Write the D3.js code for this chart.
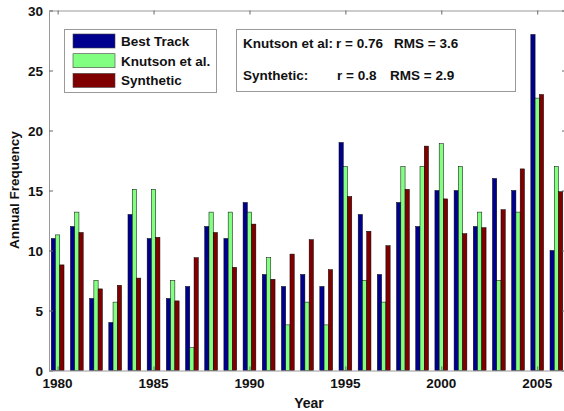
<!DOCTYPE html>
<html>
<head>
<meta charset="utf-8">
<script src="https://cdn.jsdelivr.net/npm/d3@7"></script>
<style>
  body { margin: 0; background: #fff; }
  text { font-family: "Liberation Sans", Arial, sans-serif; font-weight: bold; fill: #111; }
</style>
</head>
<body>
<script>
const years = d3.range(1980, 2007);
const seriesNames = ["Best Track", "Knutson et al.", "Synthetic"];
const bestTrack = [11, 12, 6, 4, 13, 11, 6, 7, 12, 11, 14, 8, 7, 8, 7, 19, 13, 8, 14, 12, 15, 15, 12, 16, 15, 28, 10];
const knutson = [11.3, 13.2, 7.5, 5.7, 15.1, 15.1, 7.5, 1.9, 13.2, 13.2, 13.2, 9.4, 3.8, 5.7, 3.8, 17.0, 7.5, 5.7, 17.0, 17.0, 18.9, 17.0, 13.2, 7.5, 13.2, 22.7, 17.0];
const synthetic = [8.8, 11.5, 6.8, 7.1, 7.7, 11.1, 5.8, 9.4, 11.5, 8.6, 12.2, 7.6, 9.7, 10.9, 8.4, 14.5, 11.6, 10.4, 15.1, 18.7, 14.3, 11.4, 11.9, 13.4, 16.8, 23.0, 14.9];
const yTicks = [0, 5, 10, 15, 20, 25, 30];
const xTicks = [1980, 1985, 1990, 1995, 2000, 2005];
const statLines = [
  ["Knutson et al:", "r = 0.76", "RMS = 3.6"],
  ["Synthetic:", "r = 0.8", "RMS = 2.9"]
];

const colors = ["#00008f", "#80ff80", "#800000"];
const values = [bestTrack, knutson, synthetic];

const w = 564, h = 411;
const svg = d3.select("body").append("svg").attr("width", w).attr("height", h);

const x = d3.scaleLinear().domain([1979.55, 2006.5]).range([49, 566]);
const y = d3.scaleLinear().domain([0, 30]).range([370.5, 10.5]);
const sub = d3.scaleBand().domain(seriesNames).range([-0.333, 0.333]);

// bars
seriesNames.forEach((name, i) => {
  svg.append("g").selectAll("rect")
    .data(years.map((yr, j) => ({yr, v: values[i][j]})))
    .enter().append("rect")
    .attr("x", d => x(d.yr + sub(name)))
    .attr("width", x(sub.bandwidth()) - x(0))
    .attr("y", d => y(d.v))
    .attr("height", d => y(0) - y(d.v))
    .attr("fill", colors[i])
    .attr("stroke", "#000")
    .attr("stroke-width", 0.5);
});

// axes (MATLAB style box, ticks inside)
const axisColor = "#999";
svg.append("g").attr("transform", "translate(" + x.range()[0] + ",0)")
  .call(d3.axisRight(y).tickValues(yTicks).tickSize(4).tickFormat(""))
  .call(g => g.select(".domain").attr("stroke", axisColor));
svg.append("g").attr("transform", "translate(" + x.range()[1] + ",0)")
  .call(d3.axisLeft(y).tickValues(yTicks).tickSize(4).tickFormat(""))
  .call(g => g.select(".domain").attr("stroke", axisColor));
svg.append("g").attr("transform", "translate(0," + y.range()[1] + ")")
  .call(d3.axisBottom(x).tickValues(xTicks).tickSize(4).tickFormat(""))
  .call(g => g.select(".domain").attr("stroke", axisColor));
svg.append("g").attr("transform", "translate(0," + y.range()[0] + ")")
  .call(d3.axisTop(x).tickValues(xTicks).tickSize(4).tickFormat(""))
  .call(g => g.select(".domain").attr("stroke", axisColor));
svg.selectAll(".tick line").attr("stroke", "#666");

// tick labels
svg.append("g").selectAll("text").data(yTicks).enter().append("text")
  .attr("x", 43).attr("y", d => y(d) + 5)
  .attr("text-anchor", "end").attr("font-size", 13.5)
  .text(d => d);
svg.append("g").selectAll("text").data(xTicks).enter().append("text")
  .attr("x", d => x(d)).attr("y", 388)
  .attr("text-anchor", "middle").attr("font-size", 13.5)
  .text(d => d);

// axis titles
svg.append("text").attr("x", 309).attr("y", 408)
  .attr("text-anchor", "middle").attr("font-size", 14).text("Year");
svg.append("text").attr("transform", "translate(19,190) rotate(-90)")
  .attr("text-anchor", "middle").attr("font-size", 13.5)
  .text("Annual Frequency");

// legend
const legend = svg.append("g");
legend.append("rect").attr("x", 64.5).attr("y", 29.5).attr("width", 152).attr("height", 63)
  .attr("fill", "#fff").attr("stroke", axisColor);
seriesNames.forEach((name, i) => {
  const ry = 34 + i * 19.7;
  legend.append("rect").attr("x", 73).attr("y", ry).attr("width", 42).attr("height", 14)
    .attr("fill", colors[i]).attr("stroke", "#444").attr("stroke-width", 0.6);
  legend.append("text").attr("x", 121).attr("y", ry + 12).attr("font-size", 13.5).text(name);
});

// stats box
const stats = svg.append("g");
stats.append("rect").attr("x", 236.5).attr("y", 29.5).attr("width", 279).attr("height", 62)
  .attr("fill", "#fff").attr("stroke", axisColor);
const statX = [[243, 336, 394], [243, 337, 390]];
const statY = [48, 80];
statLines.forEach((line, i) => {
  line.forEach((t, k) => {
    stats.append("text").attr("x", statX[i][k]).attr("y", statY[i])
      .attr("font-size", 13.5).text(t);
  });
});
</script>
</body>
</html>
